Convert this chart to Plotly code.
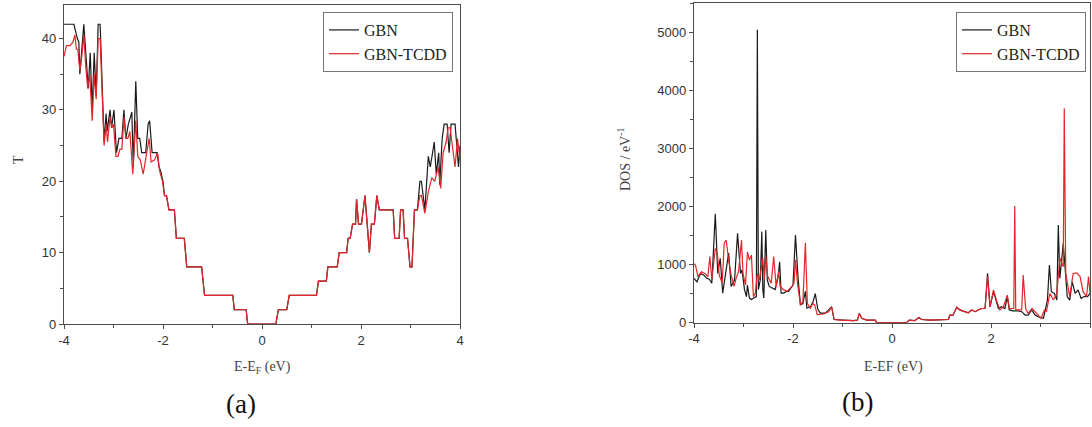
import plotly.graph_objects as go

# ---------------- (a) Transmission T ----------------
T_GBN_E_LEFT = [-4.00, -3.80, -3.73, -3.70, -3.68, -3.60, -3.51, -3.47, -3.43, -3.39, -3.35, -3.31, -3.27,
                -3.19, -3.15, -3.13, -3.07, -3.04, -2.99, -2.94, -2.89, -2.83, -2.79, -2.75, -2.70, -2.63,
                -2.60, -2.55, -2.51, -2.47, -2.43, -2.35, -2.30, -2.27, -2.22, -2.12, -2.08, -2.05, -2.00]
T_GBN_LEFT = [42, 42, 40, 39.5, 35, 42, 33, 38, 30, 38, 32, 42, 42,
              25.5, 29.5, 27, 30, 27.5, 30, 24, 26, 26, 30, 26, 28, 29.7,
              22, 34, 26, 26, 24, 24, 28, 28.5, 24, 24, 22, 21.5, 20]

T_TCDD_E_LEFT = [-4.00, -3.95, -3.88, -3.82, -3.78, -3.75, -3.72, -3.68, -3.64, -3.60, -3.56, -3.52, -3.48,
                 -3.43, -3.39, -3.35, -3.31, -3.27, -3.19, -3.15, -3.12, -3.07, -3.03, -3.00, -2.95, -2.91,
                 -2.87, -2.83, -2.79, -2.75, -2.71, -2.67, -2.61, -2.55, -2.51, -2.46, -2.40, -2.34, -2.28,
                 -2.24, -2.17, -2.11, -2.07, -2.01]
T_TCDD_LEFT = [37.5, 39, 39, 39.5, 40.5, 38.5, 38.5, 35.5, 37.5, 40.5, 36, 33, 35,
               28.5, 35, 31.5, 40, 40, 25, 28, 25.5, 29, 27.5, 28, 23.5, 23.5,
               24.5, 24.5, 29, 26, 26, 27, 21, 28.5, 23.5, 23, 21, 23.5, 26,
               22.7, 23, 24, 21.5, 20]

T_SHARED_E = [-1.97, -1.93, -1.88, -1.77, -1.73, -1.57, -1.52, -1.22, -1.16, -0.59, -0.56, -0.32, -0.29,
              0.28, 0.33, 0.50, 0.55, 1.10, 1.14, 1.30, 1.33, 1.52, 1.56, 1.71, 1.74, 1.78, 1.83, 1.89,
              1.91, 1.95, 2.01, 2.08, 2.17, 2.21, 2.27, 2.32, 2.37, 2.65, 2.68, 2.77, 2.80, 2.85, 2.88,
              2.94, 2.99, 3.03]
T_SHARED = [18, 18, 16, 16, 12, 12, 8, 8, 4, 4, 2, 2, 0,
            0, 2, 2, 4, 4, 6, 6, 8, 8, 10, 10, 12, 12, 14, 14,
            17.5, 14, 14, 18, 10, 14, 14, 18, 16, 16, 12, 12, 16, 16, 12,
            12, 8, 8]

T_GBN_E_RIGHT = [3.08, 3.14, 3.19, 3.22, 3.29, 3.36, 3.40, 3.48, 3.52, 3.57, 3.59, 3.64, 3.68, 3.74,
                 3.78, 3.82, 3.90, 3.97, 4.00]
T_GBN_RIGHT = [16, 16, 20, 20, 16, 23.5, 22, 25.5, 21, 24, 19.5, 26, 28, 28,
               24, 28, 28, 22, 25]

T_TCDD_E_RIGHT = [3.08, 3.14, 3.19, 3.22, 3.29, 3.36, 3.43, 3.49, 3.56, 3.61, 3.66, 3.72, 3.76, 3.80,
                  3.86, 3.90, 3.95, 3.99, 4.00]
T_TCDD_RIGHT = [16, 16, 18, 18, 15.5, 18.5, 20.5, 20, 22, 19, 24, 25.5, 27.5, 27.5,
                24, 22, 26, 23, 23]

# ---------------- (b) DOS ----------------
DOS_GBN_E_LEFT = [-4.00, -3.94, -3.87, -3.80, -3.74, -3.69, -3.64, -3.57, -3.52, -3.47, -3.42, -3.37, -3.30,
                  -3.25, -3.18, -3.12, -3.06, -3.03, -2.98, -2.94, -2.92, -2.88, -2.84, -2.79, -2.74, -2.72,
                  -2.70, -2.66, -2.63, -2.61, -2.59, -2.55, -2.52, -2.48, -2.42, -2.36, -2.30, -2.27, -2.24,
                  -2.19, -2.13, -2.09, -2.04, -2.00, -1.95, -1.90, -1.85, -1.80, -1.75, -1.72, -1.65, -1.60,
                  -1.55, -1.50, -1.45, -1.35, -1.28]
DOS_GBN_LEFT = [765, 705, 850, 820, 765, 750, 680, 1880, 850, 1110, 510, 795, 1200,
                625, 740, 1540, 850, 910, 570, 450, 650, 425, 400, 425, 450, 5050,
                570, 740, 1570, 570, 425, 1600, 740, 625, 600, 570, 800, 1050, 510,
                510, 540, 540, 600, 650, 1510, 800, 310, 330, 540, 250, 275, 350,
                500, 235, 165, 165, 220]

DOS_TCDD_E_LEFT = [-4.00, -3.97, -3.92, -3.85, -3.78, -3.72, -3.68, -3.64, -3.57, -3.53, -3.49, -3.43, -3.39,
                   -3.35, -3.30, -3.25, -3.19, -3.15, -3.10, -3.04, -3.01, -2.96, -2.92, -2.88, -2.84, -2.80,
                   -2.76, -2.72, -2.68, -2.65, -2.61, -2.58, -2.55, -2.51, -2.44, -2.39, -2.34, -2.29, -2.26,
                   -2.19, -2.12, -2.02, -1.98, -1.95, -1.91, -1.85, -1.80, -1.75, -1.71, -1.65, -1.60, -1.56,
                   -1.51, -1.38, -1.28]
DOS_TCDD_LEFT = [1020, 990, 795, 880, 850, 795, 1140, 740, 1280, 1200, 820, 680, 1370,
                 1425, 1080, 820, 625, 765, 880, 1425, 850, 650, 1220, 1080, 1165, 450,
                 510, 850, 740, 880, 1110, 740, 1140, 795, 680, 1140, 625, 880, 625,
                 570, 540, 625, 680, 1080, 680, 310, 360, 1380, 330, 250, 330, 300,
                 140, 150, 190]

DOS_SHARED_E = [-1.22, -1.17, -1.05, -0.78, -0.70, -0.66, -0.61, -0.51, -0.34, -0.31, 0.29, 0.35, 0.46,
                0.54, 0.60, 0.77, 1.14, 1.17, 1.23, 1.31, 1.37, 1.45, 1.54, 1.61, 1.68, 1.74, 1.81, 1.88]
DOS_SHARED = [275, 55, 45, 35, 45, 160, 75, 45, 45, 0, 0, 45, 35,
              90, 55, 45, 55, 130, 130, 265, 220, 190, 170, 220, 190, 220, 245, 245]

DOS_GBN_E_RIGHT = [1.93, 1.98, 2.05, 2.08, 2.15, 2.21, 2.28, 2.33, 2.37, 2.44, 2.55, 2.62, 2.69,
                   2.75, 2.82, 2.89, 2.96, 3.06, 3.10, 3.14, 3.18, 3.22, 3.28, 3.33, 3.36, 3.39,
                   3.46, 3.49, 3.54, 3.59, 3.64, 3.70, 3.76, 3.82, 3.88, 3.95, 4.00]
DOS_GBN_RIGHT = [850, 275, 535, 450, 245, 275, 245, 450, 220, 205, 205, 190, 130,
                 130, 220, 130, 100, 75, 220, 390, 995, 535, 505, 390, 1685, 765,
                 1370, 965, 450, 390, 705, 505, 565, 420, 450, 450, 505]

DOS_TCDD_E_RIGHT = [1.93, 1.98, 2.05, 2.11, 2.18, 2.25, 2.33, 2.37, 2.46, 2.48, 2.50, 2.62, 2.65,
                    2.70, 2.75, 2.83, 2.92, 3.01, 3.08, 3.12, 3.19, 3.26, 3.33, 3.39, 3.46, 3.48,
                    3.51, 3.59, 3.66, 3.73, 3.80, 3.86, 3.93, 3.97, 4.00]
DOS_TCDD_RIGHT = [795, 275, 565, 390, 220, 275, 475, 245, 245, 2010, 220, 220, 820,
                  245, 160, 245, 160, 75, 220, 190, 505, 390, 505, 1110, 965, 3695,
                  850, 450, 850, 860, 795, 535, 450, 795, 505]

SERIES_NAMES = ["GBN", "GBN-TCDD"]
BLACK = "#1a1a1a"
RED = "#e3262a"

W, H = 1092, 427


def px_x(p):
    return p / W


def px_y(p):
    return (H - p) / H


fig = go.Figure()

# (a)
fig.add_trace(go.Scatter(x=T_GBN_E_LEFT + T_SHARED_E + T_GBN_E_RIGHT,
                         y=T_GBN_LEFT + T_SHARED + T_GBN_RIGHT,
                         mode="lines", name=SERIES_NAMES[0], line=dict(color=BLACK, width=1.2),
                         xaxis="x", yaxis="y", legend="legend"))
fig.add_trace(go.Scatter(x=T_TCDD_E_LEFT + T_SHARED_E + T_TCDD_E_RIGHT,
                         y=T_TCDD_LEFT + T_SHARED + T_TCDD_RIGHT,
                         mode="lines", name=SERIES_NAMES[1], line=dict(color=RED, width=1.2),
                         xaxis="x", yaxis="y", legend="legend"))
# (b)
fig.add_trace(go.Scatter(x=DOS_GBN_E_LEFT + DOS_SHARED_E + DOS_GBN_E_RIGHT,
                         y=DOS_GBN_LEFT + DOS_SHARED + DOS_GBN_RIGHT,
                         mode="lines", name=SERIES_NAMES[0], line=dict(color=BLACK, width=1.2),
                         xaxis="x2", yaxis="y2", legend="legend2"))
fig.add_trace(go.Scatter(x=DOS_TCDD_E_LEFT + DOS_SHARED_E + DOS_TCDD_E_RIGHT,
                         y=DOS_TCDD_LEFT + DOS_SHARED + DOS_TCDD_RIGHT,
                         mode="lines", name=SERIES_NAMES[1], line=dict(color=RED, width=1.2),
                         xaxis="x2", yaxis="y2", legend="legend2"))

AX_COL = "#4d4d4d"
TICK_FONT = dict(family="Liberation Sans, Arial, sans-serif", size=13, color="#333333")
common = dict(showline=True, linecolor=AX_COL, linewidth=1.3, mirror=True, showgrid=False,
              zeroline=False, ticks="outside", ticklen=4, tickwidth=1.2, tickcolor=AX_COL,
              tickfont=TICK_FONT, automargin=False)

fig.update_layout(
    width=W, height=H,
    margin=dict(l=0, r=0, t=0, b=0),
    paper_bgcolor="white", plot_bgcolor="white",
    xaxis=dict(domain=[px_x(64), px_x(460)], range=[-4, 4], tickvals=[-4, -2, 0, 2, 4],
               ticktext=["-4", "-2", "0", "2", "4"],
               minor=dict(dtick=1, ticks="outside", ticklen=3, tickcolor=AX_COL), anchor="y", **common),
    yaxis=dict(domain=[px_y(324), px_y(5)], range=[0, 44.7], dtick=10,
               minor=dict(dtick=5, ticks="outside", ticklen=3, tickcolor=AX_COL), anchor="x", **common),
    xaxis2=dict(domain=[px_x(694), px_x(1090)], range=[-4, 4], tickvals=[-4, -2, 0, 2, 4],
                ticktext=["-4", "-2", "0", "2", "4"],
                minor=dict(dtick=1, ticks="outside", ticklen=3, tickcolor=AX_COL), anchor="y2", **common),
    yaxis2=dict(domain=[px_y(322.7), px_y(2.7)], range=[0, 5517], dtick=1000,
                minor=dict(dtick=500, ticks="outside", ticklen=3, tickcolor=AX_COL), anchor="x2", **common),
    legend=dict(x=px_x(453), xanchor="right", y=px_y(12), yanchor="top",
                bgcolor="white", bordercolor="#777777", borderwidth=1,
                font=dict(family="Liberation Serif, Times New Roman, serif", size=16, color="#222222"),
                tracegroupgap=0, itemwidth=30),
    legend2=dict(x=px_x(1086), xanchor="right", y=px_y(12), yanchor="top",
                 bgcolor="white", bordercolor="#777777", borderwidth=1,
                 font=dict(family="Liberation Serif, Times New Roman, serif", size=16, color="#222222"),
                 tracegroupgap=0, itemwidth=30),
    showlegend=True,
)

SERIF = "Liberation Serif, Times New Roman, serif"
ann = [
    dict(text="T", x=px_x(18), y=px_y(160), textangle=-90, font=dict(family=SERIF, size=14, color="#444")),
    dict(text="E-E<sub>F</sub> (eV)", x=px_x(262), y=px_y(367), font=dict(family=SERIF, size=14, color="#444")),
    dict(text="DOS / eV<sup>-1</sup>", x=px_x(624), y=px_y(160), textangle=-90,
         font=dict(family=SERIF, size=14, color="#444")),
    dict(text="E-EF (eV)", x=px_x(893), y=px_y(367), font=dict(family=SERIF, size=14, color="#444")),
    dict(text="(a)", x=px_x(241), y=px_y(404), font=dict(family=SERIF, size=27, color="#111")),
    dict(text="(b)", x=px_x(857), y=px_y(402), font=dict(family=SERIF, size=27, color="#111")),
]
for a in ann:
    a.update(xref="paper", yref="paper", showarrow=False, xanchor="center", yanchor="middle")
fig.update_layout(annotations=ann)

fig.write_html("out.html")
